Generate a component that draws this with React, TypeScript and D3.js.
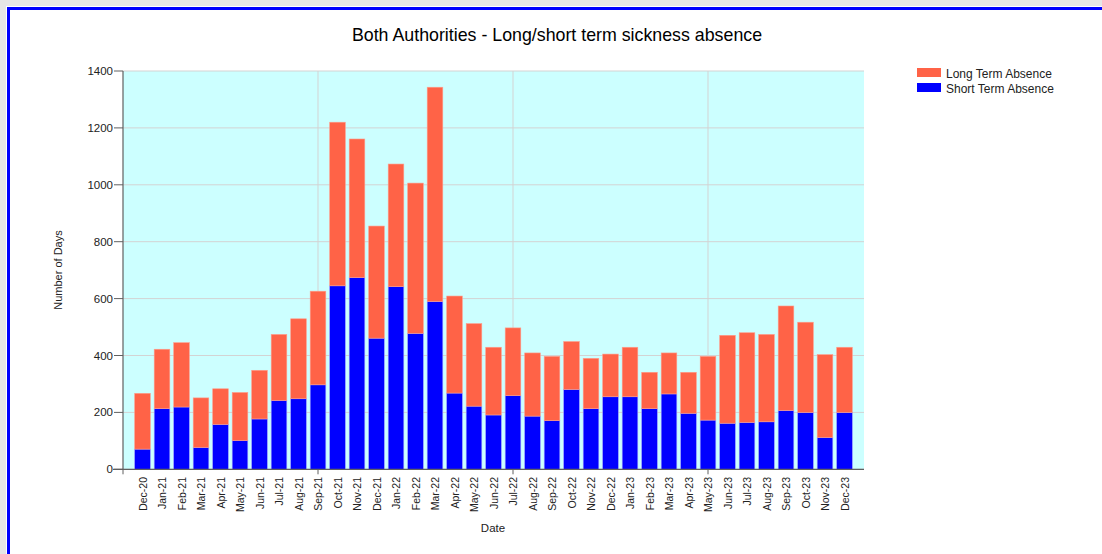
import React from "react";
import * as d3 from "d3";

const categories = [
  "Dec-20","Jan-21","Feb-21","Mar-21","Apr-21","May-21","Jun-21","Jul-21","Aug-21","Sep-21",
  "Oct-21","Nov-21","Dec-21","Jan-22","Feb-22","Mar-22","Apr-22","May-22","Jun-22","Jul-22",
  "Aug-22","Sep-22","Oct-22","Nov-22","Dec-22","Jan-23","Feb-23","Mar-23","Apr-23","May-23",
  "Jun-23","Jul-23","Aug-23","Sep-23","Oct-23","Nov-23","Dec-23",
];
const shortTerm = [
  71, 213, 219, 77, 158, 101, 177, 242, 248, 297,
  645, 674, 461, 642, 478, 590, 268, 222, 191, 259,
  187, 171, 281, 213, 255, 255, 213, 265, 197, 173,
  162, 165, 167, 207, 200, 112, 200,
];
const totals = [
  267, 422, 445, 251, 283, 270, 348, 474, 529, 626,
  1220, 1161, 855, 1073, 1006, 1343, 609, 512, 429, 497,
  409, 397, 449, 390, 405, 429, 341, 409, 341, 397,
  471, 480, 474, 574, 517, 403, 429,
];
const longTerm = totals.map((t, i) => t - shortTerm[i]);
const yTicks = [0, 200, 400, 600, 800, 1000, 1200, 1400];
const seriesNames = ["Long Term Absence", "Short Term Absence"];

const W = 1102, H = 554;
const plot = { left: 123, right: 864, top: 71, bottom: 469.3 };
const FONT = "'Liberation Sans', Arial, sans-serif";
const ORANGE = "#FF6347";
const BLUE = "#0000FF";

export default function App() {
  const n = categories.length;
  const x = d3.scaleLinear().domain([0, n + 1]).range([plot.left, plot.right]);
  const y = d3.scaleLinear().domain([0, 1400]).range([plot.bottom, plot.top]);
  const step = x(1) - x(0);
  const bw = step * 0.8;
  const vGrid = [10, 20, 30];

  React.useEffect(() => {
    document.body.style.margin = "0";
  }, []);

  return (
    <svg width={W} height={H} style={{ display: "block", fontFamily: FONT }}>
      <rect x={0} y={0} width={W} height={H} fill="#ffffff" />
      <rect x={0} y={0} width={W} height={6} fill="#e6e6e6" />
      <rect x={0} y={0} width={6} height={H} fill="#e6e6e6" />
      <line x1={9} y1={8.5} x2={W} y2={8.5} stroke={BLUE} strokeWidth={3} />
      <line x1={8.5} y1={7} x2={8.5} y2={H} stroke={BLUE} strokeWidth={3} />

      <text x={557} y={41} textAnchor="middle" fontSize={17.8} fill="#000">
        Both Authorities - Long/short term sickness absence
      </text>

      <rect x={plot.left} y={plot.top} width={plot.right - plot.left} height={plot.bottom - plot.top} fill="#CCFFFF" />
      {yTicks.map((t) => (
        <line key={"g" + t} x1={plot.left} x2={plot.right} y1={y(t)} y2={y(t)} stroke="#d3d3d3" strokeWidth={1} />
      ))}
      {vGrid.map((v) => (
        <line key={"v" + v} x1={x(v)} x2={x(v)} y1={plot.top} y2={plot.bottom} stroke="#d3d3d3" strokeWidth={1} />
      ))}

      {categories.map((c, i) => {
        const cx = x(i + 1);
        return (
          <g key={c}>
            <rect x={cx - bw / 2} y={y(shortTerm[i])} width={bw} height={y(0) - y(shortTerm[i])} fill={BLUE} stroke="#9a9aff" strokeWidth={0.6} />
            <rect x={cx - bw / 2} y={y(totals[i])} width={bw} height={y(0) - y(longTerm[i])} fill={ORANGE} stroke="#ff9c8a" strokeWidth={0.6} />
          </g>
        );
      })}

      <line x1={plot.left} x2={plot.left} y1={plot.top} y2={plot.bottom} stroke="#606060" strokeWidth={1.2} />
      <line x1={plot.left - 10} x2={plot.right} y1={plot.bottom} y2={plot.bottom} stroke="#606060" strokeWidth={1.2} />
      {yTicks.map((t) => (
        <g key={"yt" + t}>
          <line x1={plot.left - 9} x2={plot.left} y1={y(t)} y2={y(t)} stroke="#606060" strokeWidth={1} />
          <text x={plot.left - 10} y={y(t) + 4} textAnchor="end" fontSize={11.5} fill="#222">
            {t}
          </text>
        </g>
      ))}
      <line x1={plot.left} x2={plot.left} y1={plot.bottom} y2={plot.bottom + 5} stroke="#606060" strokeWidth={1} />
      {vGrid.map((v) => (
        <line key={"xt" + v} x1={x(v)} x2={x(v)} y1={plot.bottom} y2={plot.bottom + 5} stroke="#606060" strokeWidth={1} />
      ))}
      {categories.map((c, i) => (
        <text
          key={"xl" + c}
          transform={`translate(${x(i + 1) + 4},477) rotate(-90)`}
          textAnchor="end"
          fontSize={10.5}
          fill="#222"
        >
          {c}
        </text>
      ))}

      <text transform="translate(62,270) rotate(-90)" textAnchor="middle" fontSize={11} fill="#222">
        Number of Days
      </text>
      <text x={493} y={532} textAnchor="middle" fontSize={11.5} fill="#222">
        Date
      </text>

      {seriesNames.map((s, i) => (
        <g key={s}>
          <rect x={917} y={68 + i * 15} width={24} height={9} fill={i === 0 ? ORANGE : BLUE} />
          <text x={946} y={78 + i * 15} fontSize={12} fill="#222">
            {s}
          </text>
        </g>
      ))}
    </svg>
  );
}
